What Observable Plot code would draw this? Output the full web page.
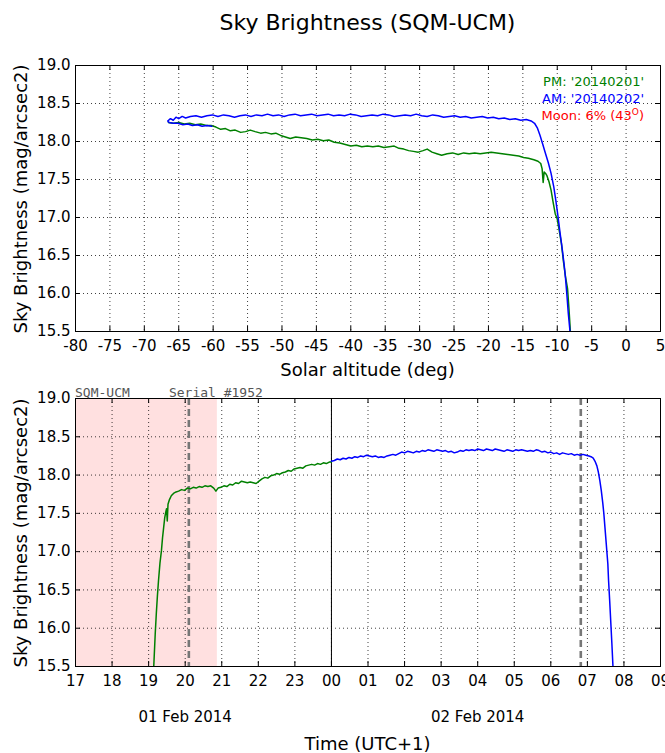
<!DOCTYPE html>
<html><head><meta charset="utf-8">
<script src="https://cdn.jsdelivr.net/npm/d3@7"></script>
<script src="https://cdn.jsdelivr.net/npm/@observablehq/plot@0.6"></script>
<style>
body{margin:0;background:#fff}
#wrap{position:relative;width:665px;height:753px;font-family:"DejaVu Sans",sans-serif;color:#000;overflow:hidden;background:#fff}
.abs{position:absolute;white-space:nowrap;line-height:1}
.c{transform:translate(-50%,-50%)}
svg{position:absolute;left:0}
</style></head><body><div id="wrap"></div>
<script>
// ---------- data ----------
const title = "Sky Brightness (SQM-UCM)";
const yLabel = "Sky Brightness (mag/arcsec2)";
const xLabelTop = "Solar altitude (deg)";
const xLabelBottom = "Time (UTC+1)";
const stationText = "SQM-UCM     Serial #1952";
const legendPM = "PM: '20140201'";
const legendAM = "AM: '20140202'";
const legendMoon = "Moon: 6% (43";

const altTicks = [-80,-75,-70,-65,-60,-55,-50,-45,-40,-35,-30,-25,-20,-15,-10,-5,0,5];
const magTicks = [15.5,16.0,16.5,17.0,17.5,18.0,18.5,19.0];
const hourTicks = [17,18,19,20,21,22,23,24,25,26,27,28,29,30,31,32,33];
const hourLabels = ["17","18","19","20","21","22","23","00","01","02","03","04","05","06","07","08","09"];
const dateLabels = ["01 Feb 2014","02 Feb 2014"];
const dateHours = [20,28];
const moonPeriod = [17, 20.88];
const twilightHours = [20.1, 30.82];
const midnight = [24];

// PM (green) : solar altitude vs brightness
const pmAlt = [-66.5,-65.8,-65.0,-64.2,-63.4,-62.6,-61.8,-61.0,-60.3,-59.6,-58.9,-58.2,-57.5,-56.8,-56.0,-55.3,-54.6,-53.9,-53.1,-52.4,-51.6,-50.9,-50.2,-49.5,-48.8,-48.0,-47.2,-46.4,-45.6,-44.8,-44.0,-43.2,-42.4,-41.6,-40.8,-40.0,-39.2,-38.4,-37.6,-36.8,-36.0,-35.2,-34.4,-33.7,-33.0,-32.3,-31.6,-30.9,-30.2,-29.5,-28.9,-28.2,-27.5,-26.8,-26.0,-25.2,-24.4,-23.6,-22.8,-22.0,-21.2,-20.4,-19.6,-18.8,-18.0,-17.2,-16.4,-15.6,-14.9,-14.2,-13.4,-12.8,-12.4,-12.2,-12.05,-11.9,-11.7,-11.5,-11.2,-10.9,-10.6,-10.3,-10.0,-9.7,-9.4,-9.1,-8.8,-8.5,-8.3,-8.15,-8.1];
const pmMag = [18.25,18.24,18.25,18.23,18.24,18.22,18.23,18.21,18.21,18.19,18.16,18.17,18.14,18.15,18.12,18.13,18.15,18.13,18.11,18.12,18.10,18.11,18.08,18.06,18.04,18.06,18.05,18.04,18.02,18.03,18.01,18.02,17.99,17.98,17.96,17.94,17.95,17.93,17.94,17.93,17.94,17.92,17.93,17.94,17.91,17.90,17.88,17.87,17.86,17.88,17.90,17.86,17.84,17.82,17.84,17.85,17.83,17.85,17.84,17.85,17.84,17.85,17.86,17.85,17.84,17.83,17.82,17.81,17.79,17.78,17.76,17.74,17.71,17.64,17.46,17.60,17.58,17.55,17.47,17.36,17.20,17.05,16.98,16.82,16.66,16.42,16.22,16.06,15.80,15.58,15.50];

// AM (blue) : solar altitude vs brightness (in recording order)
const amAlt = [-60.2,-60.9,-61.6,-62.3,-63.0,-63.7,-64.4,-65.1,-65.8,-66.4,-66.6,-66.2,-65.8,-65.4,-65.0,-64.5,-64.0,-63.3,-62.5,-61.7,-60.9,-60.1,-59.3,-58.5,-57.7,-56.9,-56.1,-55.3,-54.5,-53.7,-52.9,-52.1,-51.3,-50.5,-49.7,-48.9,-48.1,-47.3,-46.5,-45.7,-44.9,-44.1,-43.3,-42.5,-41.7,-40.9,-40.1,-39.3,-38.5,-37.7,-36.9,-36.1,-35.3,-34.5,-33.7,-32.9,-32.1,-31.3,-30.5,-29.7,-28.9,-28.1,-27.3,-26.5,-25.7,-24.9,-24.1,-23.3,-22.5,-21.7,-20.9,-20.1,-19.3,-18.5,-17.7,-16.9,-16.1,-15.3,-14.5,-13.8,-13.3,-12.9,-12.5,-12.1,-11.7,-11.3,-10.9,-10.5,-10.2,-9.9,-9.6,-9.3,-9.0,-8.8,-8.6,-8.4,-8.2,-8.15];
const amMag = [18.20,18.21,18.20,18.22,18.21,18.23,18.22,18.24,18.24,18.25,18.27,18.30,18.28,18.32,18.30,18.33,18.31,18.33,18.34,18.32,18.34,18.35,18.33,18.35,18.34,18.32,18.34,18.35,18.33,18.35,18.34,18.36,18.34,18.35,18.33,18.35,18.36,18.34,18.35,18.36,18.34,18.35,18.36,18.34,18.35,18.34,18.36,18.35,18.33,18.34,18.35,18.34,18.36,18.35,18.33,18.34,18.35,18.34,18.36,18.34,18.33,18.35,18.34,18.32,18.33,18.34,18.32,18.33,18.31,18.32,18.33,18.31,18.32,18.30,18.31,18.29,18.30,18.28,18.29,18.27,18.24,18.18,18.08,17.96,17.84,17.72,17.58,17.40,17.22,17.02,16.80,16.60,16.38,16.20,15.98,15.74,15.55,15.50];

// PM (green) : time (hours from 00:00, 01 Feb) vs brightness
const pmHour = [19.14,19.18,19.21,19.24,19.27,19.31,19.35,19.38,19.41,19.44,19.47,19.49,19.51,19.53,19.57,19.62,19.68,19.75,19.82,19.90,19.98,20.06,20.14,20.22,20.30,20.38,20.46,20.54,20.62,20.70,20.78,20.84,20.90,20.98,21.06,21.14,21.22,21.30,21.38,21.46,21.54,21.62,21.70,21.78,21.86,21.94,22.02,22.10,22.18,22.26,22.34,22.42,22.50,22.58,22.66,22.74,22.82,22.90,22.98,23.06,23.14,23.22,23.30,23.38,23.46,23.54,23.62,23.70,23.78,23.86,23.94,24.00];
const pmMagT = [15.50,15.92,16.19,16.42,16.62,16.85,17.01,17.18,17.31,17.44,17.52,17.56,17.40,17.62,17.68,17.73,17.76,17.78,17.79,17.81,17.80,17.83,17.82,17.84,17.83,17.85,17.84,17.86,17.85,17.86,17.83,17.79,17.83,17.84,17.86,17.85,17.88,17.87,17.90,17.89,17.92,17.91,17.90,17.91,17.90,17.89,17.92,17.95,17.97,17.96,17.99,18.00,18.02,18.01,18.03,18.04,18.06,18.05,18.08,18.09,18.10,18.09,18.12,18.13,18.14,18.13,18.15,18.14,18.16,18.15,18.17,18.17];

// AM (blue) : time vs brightness
const amHour = [24.00,24.08,24.16,24.24,24.32,24.40,24.48,24.56,24.64,24.72,24.80,24.88,24.96,25.04,25.12,25.20,25.28,25.36,25.44,25.52,25.60,25.68,25.76,25.84,25.92,26.00,26.08,26.16,26.24,26.32,26.40,26.48,26.56,26.64,26.72,26.80,26.88,26.96,27.04,27.12,27.20,27.28,27.36,27.44,27.52,27.60,27.68,27.76,27.84,27.92,28.00,28.08,28.16,28.24,28.32,28.40,28.48,28.56,28.64,28.72,28.80,28.88,28.96,29.04,29.12,29.20,29.28,29.36,29.44,29.52,29.60,29.68,29.76,29.84,29.92,30.00,30.08,30.16,30.24,30.32,30.40,30.48,30.56,30.64,30.72,30.80,30.88,30.96,31.04,31.10,31.16,31.21,31.26,31.30,31.34,31.38,31.42,31.45,31.48,31.51,31.54,31.56,31.58,31.61,31.64,31.67,31.70];
const amMagT = [18.18,18.19,18.21,18.20,18.22,18.21,18.23,18.22,18.24,18.23,18.25,18.24,18.26,18.25,18.24,18.25,18.23,18.24,18.23,18.25,18.26,18.27,18.26,18.28,18.30,18.29,18.31,18.30,18.29,18.31,18.30,18.32,18.31,18.33,18.32,18.31,18.33,18.32,18.31,18.32,18.30,18.31,18.29,18.30,18.32,18.31,18.33,18.32,18.33,18.32,18.34,18.33,18.32,18.34,18.33,18.32,18.34,18.33,18.32,18.31,18.33,18.32,18.31,18.33,18.32,18.33,18.32,18.31,18.32,18.31,18.33,18.32,18.30,18.31,18.29,18.30,18.28,18.29,18.27,18.29,18.28,18.27,18.28,18.26,18.27,18.26,18.27,18.26,18.25,18.24,18.22,18.18,18.12,18.04,17.93,17.80,17.64,17.50,17.32,17.14,16.96,16.84,16.62,16.36,16.08,15.80,15.50];

// ---------- build ----------
const pmTop = pmAlt.map((a,i)=>({x:a, y:pmMag[i]}));
const amTop = amAlt.map((a,i)=>({x:a, y:amMag[i]}));
const pmBot = pmHour.map((h,i)=>({x:h, y:pmMagT[i]}));
const amBot = amHour.map((h,i)=>({x:h, y:amMagT[i]}));

const W = 665, ML = 75, MR = 5;
const FW = W - ML - MR;
const GREEN = "#008000", BLUE = "#0000ff";
const gridStyle = {stroke:"#000", strokeDasharray:"1,3", strokeWidth:1, strokeOpacity:0.75};
const TL = 5;
const LW = 1.5;

function frameMarks(xt, yt, FH) {
  return [
    Plot.frame({stroke:"#000", strokeWidth:1}),
    Plot.tickX(xt, {x:d=>d, insetTop:FH-TL, stroke:"#000"}),
    Plot.tickX(xt, {x:d=>d, insetBottom:FH-TL, stroke:"#000"}),
    Plot.tickY(yt, {y:d=>d, insetRight:FW-TL, stroke:"#000"}),
    Plot.tickY(yt, {y:d=>d, insetLeft:FW-TL, stroke:"#000"})
  ];
}
const baseStyle = {fontFamily:"DejaVu Sans", fontSize:"15px", color:"#000", background:"transparent", overflow:"visible"};

// top panel
const topH = 345, topMT = 20, topMB = 59, topFH = topH - topMT - topMB;
const topPlot = Plot.plot({
  width: W, height: topH, marginLeft: ML, marginRight: MR, marginTop: topMT, marginBottom: topMB,
  style: baseStyle,
  x: {domain:[-80,5], ticks: altTicks, tickFormat: d=>String(d), tickSize:0, tickPadding:9, label:null},
  y: {domain:[15.5,19.0], ticks: magTicks, tickFormat: d=>d.toFixed(1), tickSize:0, tickPadding:5, label:null},
  marks: [
    Plot.ruleX(altTicks, {x:d=>d, ...gridStyle}),
    Plot.ruleY(magTicks, {y:d=>d, ...gridStyle}),
    Plot.line(pmTop, {x:"x", y:"y", stroke:GREEN, strokeWidth:LW, clip:true}),
    Plot.line(amTop, {x:"x", y:"y", stroke:BLUE, strokeWidth:LW, clip:true}),
    ...frameMarks(altTicks, magTicks, topFH)
  ]
});
topPlot.style.top = "45px";

// bottom panel
const botTop = 380, botH = 373, botMT = 18, botMB = 87, botFH = botH - botMT - botMB;
const botPlot = Plot.plot({
  width: W, height: botH, marginLeft: ML, marginRight: MR, marginTop: botMT, marginBottom: botMB,
  style: baseStyle,
  x: {domain:[17,33], ticks: hourTicks, tickFormat: d=>hourLabels[hourTicks.indexOf(d)], tickSize:0, tickPadding:9, label:null},
  y: {domain:[15.5,19.0], ticks: magTicks, tickFormat: d=>d.toFixed(1), tickSize:0, tickPadding:5, label:null},
  marks: [
    Plot.rect([moonPeriod], {x1:d=>d[0], x2:d=>d[1], fill:"#ffe0e0"}),
    Plot.ruleX(hourTicks, {x:d=>d, ...gridStyle}),
    Plot.ruleY(magTicks, {y:d=>d, ...gridStyle}),
    Plot.ruleX(midnight, {x:d=>d, stroke:"#000", strokeWidth:1}),
    Plot.ruleX(twilightHours, {x:d=>d, stroke:"#777", strokeWidth:2.6, strokeDasharray:"7,4"}),
    Plot.line(pmBot, {x:"x", y:"y", stroke:GREEN, strokeWidth:LW, clip:true}),
    Plot.line(amBot, {x:"x", y:"y", stroke:BLUE, strokeWidth:LW, clip:true}),
    Plot.text(dateLabels, {x:(d,i)=>dateHours[i], text:d=>d, frameAnchor:"bottom", dy:55, fontSize:15, fill:"#000"}),
    ...frameMarks(hourTicks, magTicks, botFH)
  ]
});
botPlot.style.top = botTop + "px";

const wrap = document.getElementById("wrap");
wrap.appendChild(topPlot);
wrap.appendChild(botPlot);

function addText(html, css, cls) {
  const d = document.createElement("div");
  d.className = "abs " + (cls || "");
  d.innerHTML = html;
  Object.assign(d.style, css);
  wrap.appendChild(d);
  return d;
}
const cx = ML + FW/2;
addText(title, {left: cx+"px", top:"23px", fontSize:"22px"}, "c");
addText(xLabelTop, {left: cx+"px", top:"370px", fontSize:"18px"}, "c");
addText(xLabelBottom, {left: cx+"px", top:"744px", fontSize:"18px"}, "c");
addText(yLabel, {left:"21px", top:"199px", fontSize:"18px", transform:"translate(-50%,-50%) rotate(-90deg)"});
addText(yLabel, {left:"21px", top:"533px", fontSize:"18px", transform:"translate(-50%,-50%) rotate(-90deg)"});
addText(stationText, {left:"75px", top:"386px", fontSize:"13px", fontFamily:"'DejaVu Sans Mono',monospace", color:"#555", whiteSpace:"pre"});
addText(legendPM, {right:(W-644)+"px", top:"75px", fontSize:"13px", color:GREEN});
addText(legendAM, {right:(W-644)+"px", top:"92px", fontSize:"13px", color:BLUE});
addText(legendMoon + "<sup style='font-size:9px;vertical-align:5px'>O</sup>)", {right:(W-644)+"px", top:"108px", fontSize:"13px", color:"#ff0000"});
</script>
</body></html>
